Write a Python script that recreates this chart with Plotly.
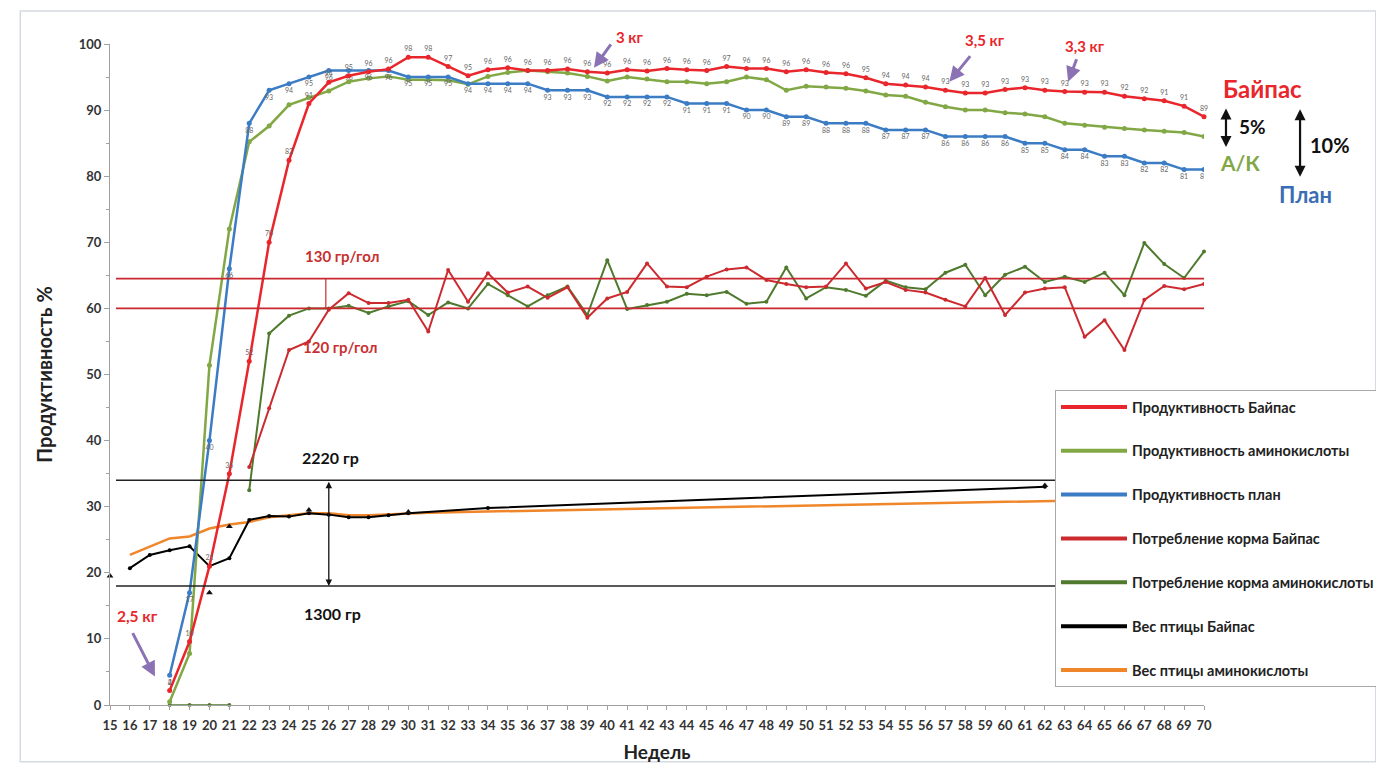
import plotly.graph_objects as go

FONT = "Lato, 'Open Sans', Arial, sans-serif"

# ---------------- data ----------------
weeks_prod = list(range(18, 71))
prod_bypass = [2.2, 9.6, 21, 35, 52, 70, 82.4, 91, 94.2, 95.2, 95.8, 96.2, 98, 98, 96.6, 95.2,
               96.1, 96.4, 96.0, 96.0, 96.2, 95.8, 95.6, 96.1, 95.9, 96.3, 96.1, 96.0, 96.6, 96.3,
               96.3, 95.8, 96.1, 95.7, 95.5, 94.9, 94.0, 93.8, 93.5, 93.0, 92.6, 92.6, 93.1, 93.4,
               93.0, 92.8, 92.7, 92.7, 92.1, 91.7, 91.4, 90.6, 89.0]
prod_ak = [0.5, 7.8, 51.4, 72, 85.2, 87.6, 90.8, 91.9, 92.9, 94.3, 94.8, 95.1, 94.6, 94.6, 94.5,
           93.9, 95.1, 95.7, 96.0, 95.8, 95.6, 95.1, 94.4, 95.0, 94.7, 94.3, 94.3, 94.0, 94.3, 95.0,
           94.6, 93.0, 93.6, 93.5, 93.3, 92.9, 92.3, 92.1, 91.2, 90.5, 90.0, 90.0, 89.6, 89.4, 89.0,
           88.0, 87.7, 87.4, 87.2, 87.0, 86.8, 86.6, 86.0]
prod_plan = [4.5, 17, 40, 66, 88, 93, 94, 95, 96, 96, 96, 96, 95, 95, 95, 94, 94, 94, 94, 93, 93,
             93, 92, 92, 92, 92, 91, 91, 91, 90, 90, 89, 89, 88, 88, 88, 87, 87, 87, 86, 86, 86, 86,
             85, 85, 84, 84, 83, 83, 82, 82, 81, 81]

weeks_feed = list(range(22, 71))
feed_bypass = [36, 44.9, 53.7, 55.0, 59.8, 62.3, 60.8, 60.8, 61.3, 56.5, 65.8, 61.0, 65.3, 62.4,
               63.3, 61.6, 63.2, 58.6, 61.5, 62.5, 66.8, 63.3, 63.2, 64.8, 65.9, 66.2, 64.3, 63.7,
               63.2, 63.3, 66.8, 63.0, 64.0, 62.8, 62.4, 61.3, 60.3, 64.6, 59.0, 62.4, 63.0, 63.2,
               55.7, 58.2, 53.7, 61.3, 63.4, 62.9, 63.7]
feed_ak = [32.5, 56.2, 58.9, 60.0, 60.0, 60.4, 59.3, 60.3, 61.1, 59.0, 60.9, 60.0, 63.7, 62.0, 60.3,
           62.0, 63.3, 59.0, 67.3, 59.9, 60.5, 61.0, 62.2, 62.0, 62.5, 60.7, 61.0, 66.2, 61.5, 63.2,
           62.8, 61.9, 64.2, 63.2, 62.9, 65.4, 66.6, 62.0, 65.1, 66.3, 64.0, 64.8, 64.0, 65.4, 62.0,
           69.9, 66.7, 64.6, 68.6]
weeks_feed_zero = [18, 19, 20, 21]
feed_ak_zero = [0, 0, 0, 0]

weeks_w_bypass = [16, 17, 18, 19, 20, 21, 22, 23, 24, 25, 26, 27, 28, 29, 30, 34, 62]
weight_bypass = [20.7, 22.7, 23.4, 24.0, 21.0, 22.2, 28.0, 28.6, 28.5, 29.0, 28.8, 28.4, 28.4, 28.7,
                 29.0, 29.8, 33.0]
weeks_w_marks = [15, 20, 21, 25, 30, 62]
weight_marks = [19.5, 17.0, 27.0, 29.5, 29.2, 33.2]
weeks_w_ak = [16, 17, 18, 19, 20, 21, 22, 23, 24, 25, 26, 27, 28, 29, 30, 31, 70]
weight_ak = [22.7, 24.0, 25.2, 25.5, 26.7, 27.3, 27.7, 28.4, 28.7, 29.0, 29.0, 28.7, 28.7, 28.8,
             29.0, 29.1, 31.3]

feed_lines = [64.5, 60.0]        # 130 / 120 гр/гол
weight_lines = [34.0, 18.0]      # 2220 / 1300 гр

names = ["Продуктивность Байпас", "Продуктивность аминокислоты", "Продуктивность план",
         "Потребление корма Байпас", "Потребление корма аминокислоты", "Вес птицы Байпас",
         "Вес птицы аминокислоты"]
colors = ["#e8262b", "#82a846", "#3b7cc4", "#cc2a2f", "#4f7a2e", "#000000", "#f0862a"]

fig = go.Figure()

# feed & weight (drawn first, underneath)
fig.add_trace(go.Scatter(x=weeks_feed, y=feed_ak, mode="lines+markers", showlegend=False,
                         line=dict(color=colors[4], width=2), marker=dict(size=4, color=colors[4]),
                         cliponaxis=False))
fig.add_trace(go.Scatter(x=weeks_feed_zero, y=feed_ak_zero, mode="lines+markers", showlegend=False,
                         line=dict(color=colors[4], width=1.5), marker=dict(size=4, color=colors[4]),
                         cliponaxis=False))
fig.add_trace(go.Scatter(x=weeks_feed, y=feed_bypass, mode="lines+markers", showlegend=False,
                         line=dict(color=colors[3], width=2), marker=dict(size=4, color=colors[3])))
fig.add_trace(go.Scatter(x=weeks_w_ak, y=weight_ak, mode="lines", showlegend=False,
                         line=dict(color=colors[6], width=2.5)))
fig.add_trace(go.Scatter(x=weeks_w_bypass, y=weight_bypass, mode="lines+markers", showlegend=False,
                         line=dict(color=colors[5], width=2), marker=dict(size=4, color=colors[5])))
fig.add_trace(go.Scatter(x=weeks_w_marks, y=weight_marks, mode="markers", showlegend=False,
                         marker=dict(size=6, color="#111111", symbol="triangle-up"), cliponaxis=False))

# productivity
fig.add_trace(go.Scatter(x=weeks_prod, y=prod_ak, mode="lines+markers", showlegend=False,
                         line=dict(color=colors[1], width=2.5), marker=dict(size=5, color=colors[1])))
fig.add_trace(go.Scatter(x=weeks_prod, y=prod_plan, mode="lines+markers+text", showlegend=False,
                         line=dict(color=colors[2], width=2.5), marker=dict(size=5, color=colors[2]),
                         text=[f"{v:.0f}" for v in prod_plan], textposition="bottom center",
                         textfont=dict(size=7, color="#666666", family=FONT)))
fig.add_trace(go.Scatter(x=weeks_prod, y=prod_bypass, mode="lines+markers+text", showlegend=False,
                         line=dict(color=colors[0], width=2.5), marker=dict(size=5, color=colors[0]),
                         text=[f"{v:.0f}" for v in prod_bypass], textposition="top center",
                         textfont=dict(size=7, color="#666666", family=FONT), cliponaxis=False))

# legend entries
for i, (n, c) in enumerate(zip(names, colors)):
    fig.add_trace(go.Scatter(x=[None], y=[None], mode="lines", name=n, legendgroup=f"g{i}",
                             line=dict(color=c, width=4)))

shapes = []
for v in feed_lines:
    shapes.append(dict(type="line", xref="x", yref="y", x0=15.3, x1=70, y0=v, y1=v,
                       line=dict(color="#c8282e", width=1.6)))
for v in weight_lines:
    shapes.append(dict(type="line", xref="x", yref="y", x0=15.3, x1=70, y0=v, y1=v,
                       line=dict(color="#222222", width=1.6)))
shapes.append(dict(type="line", xref="x", yref="y", x0=25.85, x1=25.85, y0=feed_lines[1],
                   y1=feed_lines[0], line=dict(color="#c8282e", width=1.2)))
shapes.append(dict(type="rect", xref="paper", yref="paper", x0=-0.082, x1=1.157, y0=-0.086,
                   y1=1.05, line=dict(color="#d5dae2", width=1.5)))

ann = []
def txt(x, y, s, color, size, xref="x", bold=True):
    # y given in data units (axis range 0..100 -> paper = y/100)
    ann.append(dict(x=x, y=y / 100.0, xref=xref, yref="paper", text=f"<b>{s}</b>" if bold else s,
                    xanchor="center", yanchor="middle", showarrow=False,
                    font=dict(family=FONT, size=size, color=color)))

def arrow(x, y, ax, ay, color, width, side="end", xref="x", head=2):
    ann.append(dict(x=x, y=y / 100.0, xref=xref, yref="paper", ax=ax, ay=ay, axref="pixel",
                    ayref="pixel", text="", showarrow=True, arrowhead=head, arrowsize=1,
                    arrowwidth=width, arrowcolor=color, arrowside=side, startarrowhead=head,
                    startarrowsize=1))

purple = "#8a72b4"
txt(41.1, 101.1, "3 кг", "#e8262b", 15)
arrow(39.33, 96.4, 18, -25, purple, 3)
txt(59.0, 100.6, "3,5 кг", "#e8262b", 15)
arrow(57.2, 94.3, 22, -27, purple, 3)
txt(64.0, 99.7, "3,3 кг", "#e8262b", 15)
arrow(63.17, 94.3, 9, -24, purple, 3)
txt(16.4, 13.5, "2,5 кг", "#e8262b", 15.5)
arrow(17.26, 4.3, -23, -45, purple, 3)

txt(1.0539, 93.3, "Байпас", "#e8262b", 24, xref="paper")
txt(1.0440, 87.5, "5%", "#111111", 19, xref="paper")
txt(1.1152, 84.7, "10%", "#111111", 20, xref="paper")
txt(1.0329, 82.0, "А/К", "#82a846", 21, xref="paper")
txt(1.0932, 77.2, "План", "#3b6db5", 22, xref="paper")
arrow(1.0201, 84.4, 0, -40, "#111111", 2.2, side="end+start", xref="paper")
arrow(1.0878, 79.9, 0, -69, "#111111", 2.2, side="end+start", xref="paper")

txt(26.7, 67.9, "130 гр/гол", "#c8302f", 15)
txt(26.6, 54.2, "120 гр/гол", "#c8302f", 15)
txt(26.1, 37.4, "2220 гр", "#111111", 16)
txt(26.2, 13.9, "1300 гр", "#111111", 16)
ann.append(dict(x=26, y=weight_lines[1], ax=26, ay=weight_lines[0], xref="x", yref="y",
                axref="x", ayref="y", text="", showarrow=True, arrowhead=2, arrowsize=1,
                arrowwidth=1.3, arrowcolor="#111111", arrowside="end+start", startarrowhead=2))

fig.update_layout(
    width=1384, height=764,
    margin=dict(l=102, r=188, t=36, b=67),
    paper_bgcolor="white", plot_bgcolor="white",
    font=dict(family=FONT, color="#222222"),
    shapes=shapes, annotations=ann,
    legend=dict(x=0.8638, y=0.4766, xanchor="left", yanchor="top", bgcolor="white",
                bordercolor="#a9a9a9", borderwidth=1, tracegroupgap=22, itemwidth=66,
                font=dict(family=FONT, size=14.5, color="#222222", weight="bold")),
    xaxis=dict(range=[15, 70], tickmode="linear", tick0=15, dtick=1, showgrid=False,
               zeroline=False, showline=True, linecolor="#a0a0a0", ticks="outside", ticklen=4,
               tickcolor="#a0a0a0", ticklabelstandoff=4,
               tickfont=dict(family=FONT, size=13, color="#333333", weight="bold"),
               title=dict(text="<b>Недель</b>", font=dict(family=FONT, size=19, color="#222222"),
                          standoff=14)),
    yaxis=dict(range=[0, 100], tickmode="linear", tick0=0, dtick=10, showgrid=False,
               zeroline=False, showline=True, linecolor="#a0a0a0", ticks="outside", ticklen=5,
               tickcolor="#a0a0a0", minor=dict(dtick=5, ticks="outside", ticklen=3, tickcolor="#a0a0a0"),
               tickfont=dict(family=FONT, size=13, color="#333333", weight="bold"),
               title=dict(text="<b>Продуктивность %</b>", font=dict(family=FONT, size=20, color="#222222"),
                          standoff=20)),
)

fig.write_html("out.html")
